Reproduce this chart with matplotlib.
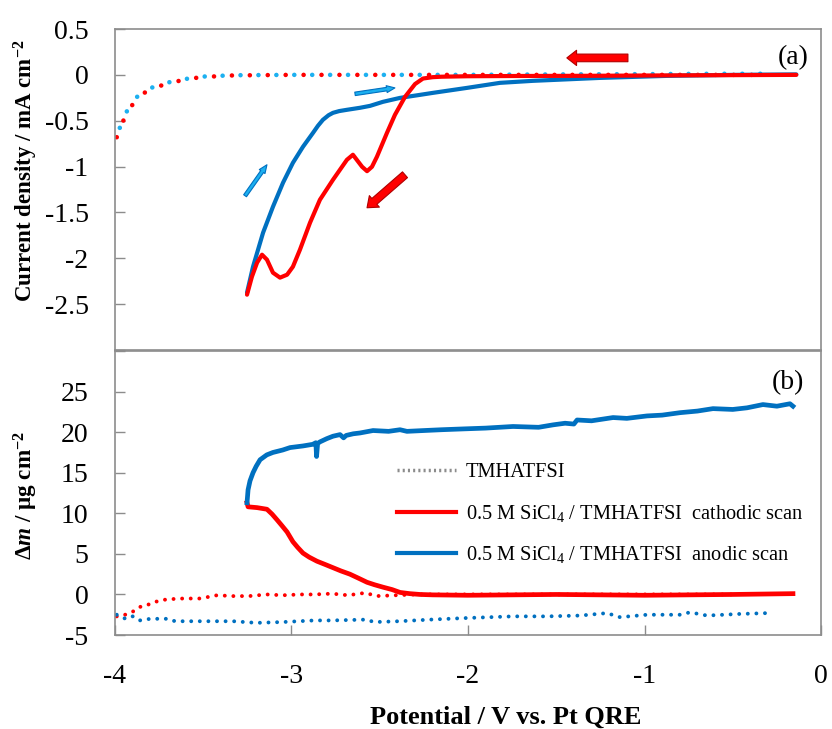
import matplotlib
matplotlib.use("Agg")
import matplotlib.pyplot as plt
from matplotlib.lines import Line2D

plt.rcParams['font.family'] = ['Liberation Serif', 'DejaVu Serif']
plt.rcParams['mathtext.fontset'] = 'custom'
plt.rcParams['mathtext.rm'] = 'Liberation Serif'
plt.rcParams['mathtext.it'] = 'Liberation Serif:italic'
plt.rcParams['mathtext.bf'] = 'Liberation Serif:bold'
plt.rcParams['mathtext.bfit'] = 'Liberation Serif:italic:bold'
plt.rcParams['axes.unicode_minus'] = False

# ---- (a) current density ----
# cathodic scan (SiCl4 / TMHATFSI), starts at right
cv_cat_x = [-0.14, -0.5, -0.9, -1.3, -1.7, -2.0, -2.15, -2.2, -2.255, -2.3, -2.357, -2.414,
            -2.459, -2.516, -2.544, -2.572, -2.600, -2.652, -2.686, -2.765, -2.839, -2.895,
            -2.952, -2.992, -3.025, -3.065, -3.105, -3.139, -3.167, -3.195, -3.224, -3.252]
cv_cat_y = [0.0, -0.003, -0.006, -0.01, -0.012, -0.015, -0.02, -0.025, -0.04, -0.10, -0.24, -0.436,
            -0.632, -0.893, -1.002, -1.050, -1.002, -0.871, -0.926, -1.144, -1.362, -1.612,
            -1.906, -2.092, -2.179, -2.211, -2.157, -2.015, -1.961, -2.048, -2.200, -2.397]
# anodic scan
cv_an_x = [-3.252, -3.218, -3.161, -3.105, -3.048, -2.992, -2.935, -2.878, -2.85, -2.822, -2.79,
           -2.765, -2.73, -2.686, -2.612, -2.555, -2.482, -2.385, -2.272, -2.198, -2.006, -1.819,
           -1.632, -1.252, -0.873, -0.499, -0.14]
cv_an_y = [-2.375, -2.092, -1.721, -1.438, -1.176, -0.959, -0.784, -0.632, -0.555, -0.490, -0.44,
           -0.414, -0.395, -0.381, -0.359, -0.338, -0.294, -0.251, -0.218, -0.196, -0.142, -0.087,
           -0.065, -0.033, -0.011, 0.0, 0.005]
# neat TMHATFSI (dotted)
cv_neat_x = [-3.99, -3.96, -3.926, -3.875, -3.819, -3.745, -3.649, -3.518, -3.331, -3.0,
             -2.5, -2.0, -1.5, -1.0, -0.6, -0.3]
cv_neat_red_y = [-0.68, -0.53, -0.39, -0.26, -0.175, -0.12, -0.07, -0.025, -0.006, 0.0,
                 0.0, 0.0, 0.0, 0.0, 0.0, 0.0]
cv_neat_cyan_y = [-0.67, -0.51, -0.37, -0.24, -0.16, -0.105, -0.06, -0.02, -0.004, 0.0,
                  0.0, 0.0, 0.005, 0.008, 0.012, 0.012]

# ---- (b) mass change ----
dm_an_x = [-3.252, -3.246, -3.235, -3.218, -3.2, -3.178, -3.14, -3.105, -3.05, -3.008, -2.935,
           -2.88, -2.862, -2.858, -2.852, -2.839, -2.8, -2.765, -2.725, -2.705, -2.69, -2.65,
           -2.612, -2.538, -2.45, -2.385, -2.346, -2.25, -2.15, -2.028, -1.9, -1.745, -1.6,
           -1.518, -1.45, -1.4, -1.382, -1.3, -1.178, -1.1, -0.986, -0.9, -0.799, -0.7, -0.612,
           -0.5, -0.419, -0.329, -0.25, -0.176, -0.159]
dm_an_y = [11.3, 12.9, 14.0, 15.0, 15.8, 16.6, 17.2, 17.5, 17.8, 18.1, 18.3,
           18.5, 18.7, 17.0, 18.6, 18.8, 19.2, 19.5, 19.7, 19.3, 19.6, 19.8,
           19.9, 20.2, 20.1, 20.3, 20.1, 20.2, 20.3, 20.4, 20.5, 20.7, 20.6,
           20.9, 21.1, 21.0, 21.5, 21.4, 21.8, 21.7, 22.0, 22.1, 22.4, 22.6, 22.9,
           22.8, 23.0, 23.4, 23.2, 23.5, 23.2]
dm_cat_x = [-0.159, -0.5, -1.0, -1.5, -2.0, -2.2, -2.272, -2.33, -2.385, -2.43, -2.482, -2.53,
            -2.572, -2.62, -2.669, -2.72, -2.765, -2.81, -2.856, -2.9, -2.935, -2.965, -2.992,
            -3.025, -3.055, -3.082, -3.11, -3.139, -3.195, -3.246, -3.252]
dm_cat_y = [0.1, 0.0, -0.1, 0.0, -0.1, -0.05, 0.0, 0.1, 0.25, 0.6, 0.9, 1.2,
            1.5, 2.0, 2.5, 2.9, 3.3, 3.7, 4.1, 4.6, 5.1, 5.8, 6.5,
            7.7, 8.5, 9.2, 9.9, 10.5, 10.7, 10.8, 11.3]
dm_neat_red_x = [-3.99, -3.943, -3.898, -3.847, -3.802, -3.756, -3.705, -3.615, -3.518, -3.422,
                 -3.331, -3.24, -3.139, -3.05, -2.952, -2.87, -2.77, -2.68, -2.58, -2.52,
                 -2.3, -1.5, -0.5]
dm_neat_red_y = [-2.7, -2.5, -2.1, -1.4, -1.2, -0.8, -0.6, -0.5, -0.5, -0.1,
                 -0.2, -0.2, 0.0, -0.1, 0.0, 0.0, 0.1, -0.1, 0.2, -0.2,
                 0.0, 0.0, 0.0]
dm_neat_blue_x = [-3.99, -3.94, -3.9, -3.86, -3.80, -3.70, -3.66, -3.52, -3.33, -3.20, -3.05,
                  -2.87, -2.77, -2.58, -2.53, -2.39, -2.215, -2.006, -1.745, -1.553, -1.365,
                  -1.213, -1.139, -0.986, -0.799, -0.742, -0.646, -0.459, -0.306]
dm_neat_blue_y = [-2.5, -3.0, -2.7, -3.2, -3.0, -3.0, -3.3, -3.3, -3.3, -3.5, -3.4,
                  -3.2, -3.2, -3.1, -3.4, -3.3, -3.1, -2.9, -2.7, -2.7, -2.6,
                  -2.3, -2.8, -2.5, -2.5, -2.2, -2.6, -2.4, -2.3]

legend_labels = ['TMHATFSI',
                 '0.5 M SiCl$_4$ / TMHATFSI  cathodic scan',
                 '0.5 M SiCl$_4$ / TMHATFSI  anodic scan']

RED = '#ff0000'
BLUE = '#0070c0'
CYAN = '#1cb0f0'
GRAY = '#8c8c8c'
FS = 20

fig = plt.figure(figsize=(8.32, 7.29), dpi=100)
ax1 = fig.add_axes([0.1382, 0.5199, 0.8486, 0.4403])
ax2 = fig.add_axes([0.1382, 0.1289, 0.8486, 0.3896])

ax1.plot(cv_neat_x, cv_neat_red_y, color=RED, lw=3.3, ls=(0, (0.01, 3.9)), dash_capstyle='round')
ax1.plot(cv_neat_x, cv_neat_cyan_y, color=CYAN, lw=3.3, ls=(1.95, (0.01, 3.9)), dash_capstyle='round')
ax1.plot(cv_an_x, cv_an_y, color=BLUE, lw=3, solid_capstyle='round')
ax1.plot(cv_cat_x, cv_cat_y, color=RED, lw=3, solid_capstyle='round')


def arrow(ax, tail, head, fc, ec, tw, hw, hl):
    ax.annotate('', xy=head, xytext=tail,
                arrowprops=dict(arrowstyle='simple,head_length=%g,head_width=%g,tail_width=%g' % (hl, hw, tw),
                                fc=fc, ec=ec, lw=0.8, shrinkA=0, shrinkB=0, mutation_scale=10))


arrow(ax1, (-1.094, 0.185), (-1.44, 0.185), RED, '#b00000', 0.55, 1.1, 0.7)
arrow(ax1, (-2.357, -1.089), (-2.572, -1.449), RED, '#b00000', 0.55, 1.1, 0.7)
arrow(ax1, (-2.640, -0.207), (-2.414, -0.142), CYAN, BLUE, 0.25, 0.5, 0.6)
arrow(ax1, (-3.263, -1.318), (-3.139, -0.980), CYAN, BLUE, 0.25, 0.5, 0.6)

ax1.set_xlim(-4, 0)
ax1.set_ylim(-3, 0.5)
ax1.set_yticks([0.5, 0, -0.5, -1, -1.5, -2, -2.5, -3])
ax1.set_yticklabels(['0.5', '0', '-0.5', '-1', '-1.5', '-2', '-2.5', ''])
ax1.set_xticks([])
ax1.set_ylabel('Current density / mA cm$^{\\mathbf{-2}}$', fontsize=16.5, fontweight='bold')
ax1.yaxis.set_label_coords(-0.106, 0.56)
ax1.text(0.982, 0.91, '(a)', transform=ax1.transAxes, fontsize=FS, ha='right', va='center')

ax2.plot(dm_neat_red_x, dm_neat_red_y, color=RED, lw=2.8, ls=(0, (0.01, 2.2)), dash_capstyle='round')
ax2.plot(dm_neat_blue_x, dm_neat_blue_y, color=BLUE, lw=2.8, ls=(0, (0.01, 2.2)), dash_capstyle='round')
ax2.plot(dm_cat_x, dm_cat_y, color=RED, lw=3.4)
ax2.plot(dm_an_x, dm_an_y, color=BLUE, lw=3.4)

ax2.set_xlim(-4, 0)
ax2.set_ylim(-5, 30)
ax2.set_yticks([-5, 0, 5, 10, 15, 20, 25, 30])
ax2.set_yticklabels(['-5', '0', '5', '10', '15', '20', '25', ''])
ax2.set_xticks([-4, -3, -2, -1, 0])
ax2.set_xticklabels(['-4', '-3', '-2', '-1', '0'])
ax2.set_ylabel('$\\mathbf{\\Delta}\\mathbfit{m}$ / $\\mathbf{\\mu}$g cm$^{\\mathbf{-2}}$',
               fontsize=16.7, fontweight='bold')
ax2.yaxis.set_label_coords(-0.106, 0.49)
ax2.set_xlabel('Potential / V vs. Pt QRE', fontsize=19, fontweight='bold')
ax2.xaxis.set_label_coords(0.554, -0.25)
ax2.text(0.976, 0.89, '(b)', transform=ax2.transAxes, fontsize=FS, ha='right', va='center')

handles = [Line2D([], [], color=GRAY, lw=2.5, ls=(0, (0.6, 0.9))),
           Line2D([], [], color=RED, lw=3),
           Line2D([], [], color=BLUE, lw=3)]
ax2.legend(handles, legend_labels, loc='upper left', bbox_to_anchor=(0.374, 0.67),
           frameon=False, fontsize=14.7, handlelength=2.85, handletextpad=0.49, labelspacing=1.0)

for ax in (ax1, ax2):
    for s in ax.spines.values():
        s.set_color(GRAY)
        s.set_linewidth(1.2)
    ax.tick_params(direction='in', length=7, width=1, color=GRAY, labelsize=FS, pad=19)

ax2.tick_params(axis='x', pad=21)

fig.savefig('out.png', dpi=100)
